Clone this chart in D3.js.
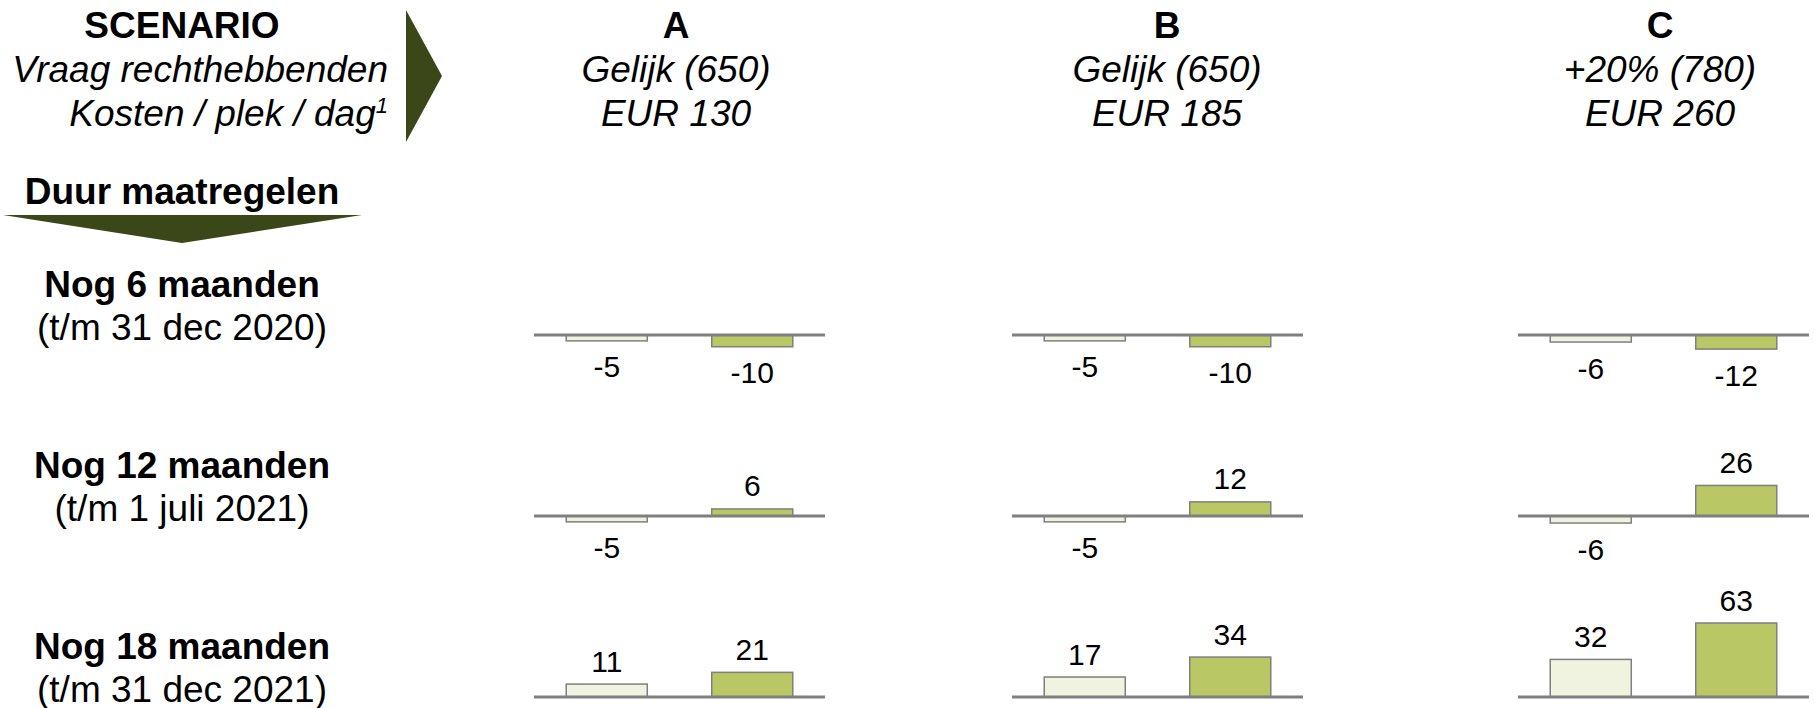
<!DOCTYPE html>
<html>
<head>
<meta charset="utf-8">
<script src="https://cdn.jsdelivr.net/npm/d3@7"></script>
<style>
  body { margin: 0; background: #fff; }
  text { font-family: "Liberation Sans", Arial, sans-serif; fill: #000; }
</style>
</head>
<body>
<div id="chart"></div>
<script>
// scenarios (columns)
const scenarios = ["A", "B", "C"];
const scenarioDemand = ["Gelijk (650)", "Gelijk (650)", "+20% (780)"];
const scenarioCost = ["EUR 130", "EUR 185", "EUR 260"];

// duration rows
const durations = ["Nog 6 maanden", "Nog 12 maanden", "Nog 18 maanden"];
const durationDates = ["(t/m 31 dec 2020)", "(t/m 1 juli 2021)", "(t/m 31 dec 2021)"];

// values per row (duration) per column (scenario)
const seriesLight = [[-5, -5, -6], [-5, -5, -6], [11, 17, 32]];
const seriesDark = [[-10, -10, -12], [6, 12, 26], [21, 34, 63]];
const seriesKeys = ["light", "dark"];

const width = 1814, height = 708;
const panelX = [534, 1012, 1518];
const panelW = 291;
const headerX = [676, 1167, 1660];
const rowBase = [335, 516, 697];
const labelX = 182;

const colors = { light: "#eff3e0", dark: "#b9c865" };

const svg = d3.select("#chart").append("svg")
  .attr("width", width)
  .attr("height", height);

// header, left side
svg.append("text").attr("x", labelX).attr("y", 38)
  .attr("text-anchor", "middle").attr("font-size", 37).attr("font-weight", "bold")
  .text("SCENARIO");
svg.append("text").attr("x", 388).attr("y", 82)
  .attr("text-anchor", "end").attr("font-size", 37).attr("font-style", "italic")
  .text("Vraag rechthebbenden");
const kosten = svg.append("text").attr("x", 388).attr("y", 126)
  .attr("text-anchor", "end").attr("font-size", 37).attr("font-style", "italic");
kosten.append("tspan").text("Kosten / plek / dag");
kosten.append("tspan").attr("font-size", 22).attr("dy", -13).text("1");

svg.append("path")
  .attr("d", d3.line()([[406, 10], [442, 76], [406, 142]]) + "Z")
  .attr("fill", "#3b4619");

svg.append("text").attr("x", labelX).attr("y", 204)
  .attr("text-anchor", "middle").attr("font-size", 37).attr("font-weight", "bold")
  .text("Duur maatregelen");
svg.append("path")
  .attr("d", d3.line()([[3, 215], [362, 215], [182, 243]]) + "Z")
  .attr("fill", "#3b4619");

// column headers
const head = svg.append("g").selectAll("g")
  .data(scenarios)
  .join("g")
  .attr("transform", (d, i) => "translate(" + headerX[i] + ",0)");
head.append("text").attr("y", 38).attr("text-anchor", "middle")
  .attr("font-size", 37).attr("font-weight", "bold").text(d => d);
head.append("text").attr("y", 82).attr("text-anchor", "middle")
  .attr("font-size", 37).attr("font-style", "italic").text((d, i) => scenarioDemand[i]);
head.append("text").attr("y", 126).attr("text-anchor", "middle")
  .attr("font-size", 37).attr("font-style", "italic").text((d, i) => scenarioCost[i]);

// row labels
durations.forEach(function(d, r) {
  svg.append("text").attr("x", labelX).attr("y", rowBase[r] - 38)
    .attr("text-anchor", "middle").attr("font-size", 37).attr("font-weight", "bold")
    .text(d);
  svg.append("text").attr("x", labelX).attr("y", rowBase[r] + 5)
    .attr("text-anchor", "middle").attr("font-size", 37)
    .text(durationDates[r]);
});

// scales
const x = d3.scaleBand()
  .domain(seriesKeys)
  .range([0, panelW])
  .paddingInner(0.443)
  .paddingOuter(0.2215);

const y = d3.scaleLinear()
  .domain([0, 63])
  .range([0, 74]);

// panels
durations.forEach(function(dur, r) {
  scenarios.forEach(function(sc, c) {
    const g = svg.append("g")
      .attr("transform", "translate(" + panelX[c] + "," + rowBase[r] + ")");

    const vals = [
      { key: "light", v: seriesLight[r][c] },
      { key: "dark", v: seriesDark[r][c] }
    ];

    g.selectAll("rect")
      .data(vals)
      .join("rect")
        .attr("x", d => x(d.key))
        .attr("y", d => d.v >= 0 ? -y(d.v) : 0)
        .attr("width", x.bandwidth())
        .attr("height", d => y(Math.abs(d.v)))
        .attr("fill", d => colors[d.key])
        .attr("stroke", "#7f7f7f")
        .attr("stroke-width", 1.5);

    g.append("line")
      .attr("x1", 0).attr("x2", panelW)
      .attr("y1", 0).attr("y2", 0)
      .attr("stroke", "#7f7f7f")
      .attr("stroke-width", 3);

    g.selectAll("text.val")
      .data(vals)
      .join("text")
        .attr("class", "val")
        .attr("x", d => x(d.key) + x.bandwidth() / 2)
        .attr("y", d => d.v >= 0 ? -y(d.v) - 12.5 : y(-d.v) + 36.5)
        .attr("text-anchor", "middle")
        .attr("font-size", 30)
        .text(d => d.v);
  });
});
</script>
</body>
</html>
